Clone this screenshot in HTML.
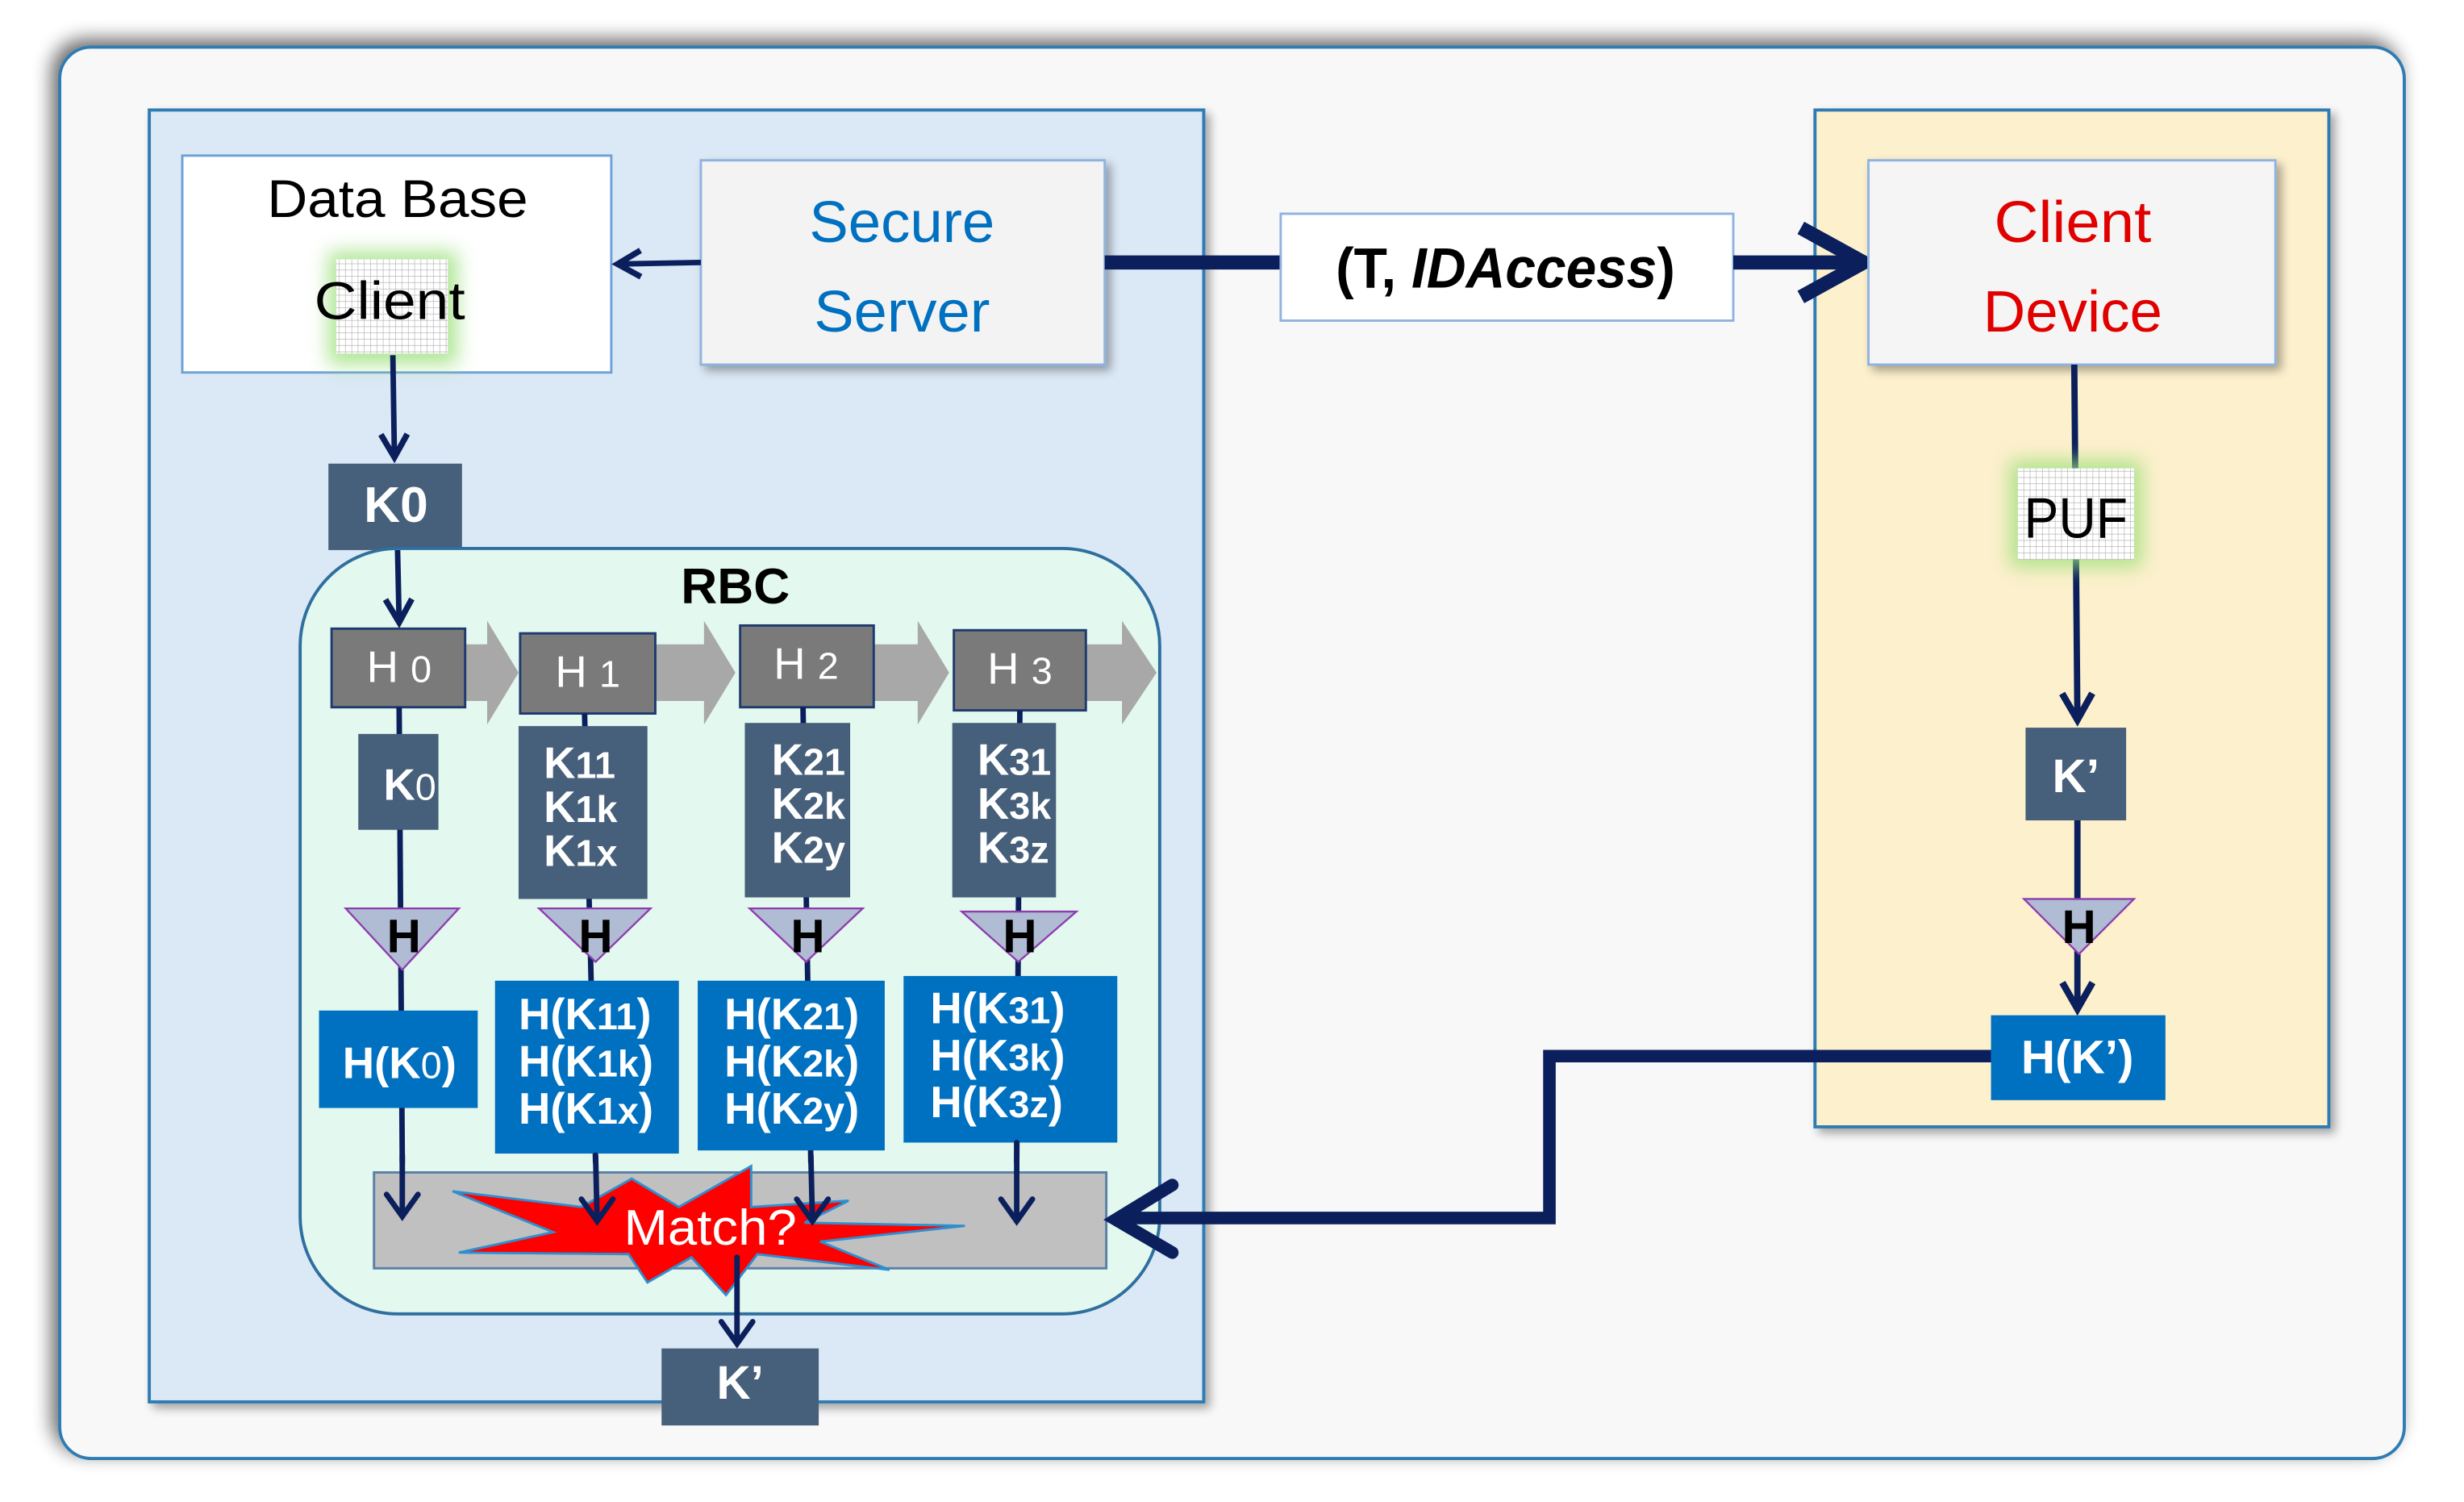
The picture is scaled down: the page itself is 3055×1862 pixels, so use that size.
<!DOCTYPE html>
<html><head><meta charset="utf-8"><style>
html,body{margin:0;padding:0;background:#fff;}
svg{display:block;}
text{font-family:"Liberation Sans",sans-serif;}
</style></head><body>
<svg width="3055" height="1862" viewBox="0 0 1568 955.7" preserveAspectRatio="none" xmlns="http://www.w3.org/2000/svg">
<defs>
<filter id="sh" x="-5%" y="-5%" width="115%" height="115%"><feGaussianBlur in="SourceAlpha" stdDeviation="6"/><feOffset dx="-4" dy="-4"/><feComponentTransfer><feFuncA type="linear" slope="0.6"/></feComponentTransfer><feMerge><feMergeNode/><feMergeNode in="SourceGraphic"/></feMerge></filter>
<filter id="sh2" x="-10%" y="-10%" width="125%" height="125%"><feGaussianBlur in="SourceAlpha" stdDeviation="3"/><feOffset dx="3" dy="3"/><feComponentTransfer><feFuncA type="linear" slope="0.35"/></feComponentTransfer><feMerge><feMergeNode/><feMergeNode in="SourceGraphic"/></feMerge></filter>
<filter id="glow" x="-50%" y="-50%" width="200%" height="200%"><feGaussianBlur stdDeviation="6"/></filter>
<pattern id="grid" width="4" height="4" patternUnits="userSpaceOnUse"><rect width="4" height="4" fill="#fff"/><path d="M4 0V4M0 4H4" stroke="#aaa" stroke-width="0.6"/></pattern>
<marker id="ah" viewBox="0 0 10 10" refX="8" refY="5" markerWidth="6" markerHeight="6" orient="auto" markerUnits="strokeWidth"><path d="M1 1L8 5L1 9" fill="none" stroke="#0a1f5c" stroke-width="1.8"/></marker>
</defs>
<rect width="1568" height="955.7" fill="#fff"/>
<rect x="38" y="30" width="1492" height="898" rx="20" fill="#f8f8f8" stroke="#2f7bb3" stroke-width="2" filter="url(#sh)"/>
<rect x="95" y="70" width="671" height="822" fill="#dbe8f5" stroke="#2f7bb3" stroke-width="2" filter="url(#sh2)"/>
<rect x="1155" y="70" width="327" height="647" fill="#fdf0cd" stroke="#2f7bb3" stroke-width="2" filter="url(#sh2)"/>

<rect x="116" y="99" width="273" height="138" fill="#fff" stroke="#6fa0d8" stroke-width="1.5"/>
<text x="253" y="138" font-size="34" text-anchor="middle" fill="#000" textLength="166" lengthAdjust="spacingAndGlyphs">Data Base</text>
<rect x="209" y="160" width="82" height="72" fill="#9be07a" filter="url(#glow)" opacity="0.8"/>
<rect x="214" y="165" width="71" height="60" fill="url(#grid)"/>
<text x="248" y="203" font-size="34" text-anchor="middle" fill="#000" textLength="96" lengthAdjust="spacingAndGlyphs">Client</text>

<rect x="446" y="102" width="257" height="130" fill="#f3f3f3" stroke="#8fb3e0" stroke-width="1.5" filter="url(#sh2)"/>
<text x="574" y="154" font-size="37" text-anchor="middle" fill="#0070c0" textLength="118" lengthAdjust="spacingAndGlyphs">Secure</text>
<text x="574" y="211" font-size="37" text-anchor="middle" fill="#0070c0" textLength="112" lengthAdjust="spacingAndGlyphs">Server</text>

<line x1="446" y1="167" x2="393" y2="168" stroke="#0a1f5c" stroke-width="3.5" marker-end="url(#ah)"/>
<line x1="703" y1="167" x2="815" y2="167" stroke="#0a1f5c" stroke-width="9"/>
<rect x="815" y="136" width="288" height="68" fill="#fff" stroke="#8fb3e0" stroke-width="1.5"/>
<text x="958" y="183" font-size="36" font-weight="bold" text-anchor="middle" fill="#000" textLength="216" lengthAdjust="spacingAndGlyphs">(T, <tspan font-style="italic">IDAccess</tspan>)</text>
<line x1="1103" y1="167" x2="1180" y2="167" stroke="#0a1f5c" stroke-width="9"/>
<path d="M1146 145L1186 167L1146 189" fill="none" stroke="#0a1f5c" stroke-width="9"/>

<rect x="1189" y="102" width="259" height="130" fill="#f5f5f5" stroke="#8fb3e0" stroke-width="1.5" filter="url(#sh2)"/>
<text x="1319" y="154" font-size="37" text-anchor="middle" fill="#e00000" textLength="100" lengthAdjust="spacingAndGlyphs">Client</text>
<text x="1319" y="211" font-size="37" text-anchor="middle" fill="#e00000" textLength="114" lengthAdjust="spacingAndGlyphs">Device</text>

<line x1="1320" y1="232" x2="1322" y2="458" stroke="#0a1f5c" stroke-width="4" marker-end="url(#ah)"/>
<rect x="1279" y="293" width="84" height="68" fill="#9be07a" filter="url(#glow)" opacity="0.8"/>
<rect x="1284" y="298" width="74" height="58" fill="url(#grid)"/>
<text x="1321" y="342" font-size="36" text-anchor="middle" fill="#000" textLength="66" lengthAdjust="spacingAndGlyphs">PUF</text>
<rect x="1289" y="463" width="64" height="59" fill="#465f7a"/>
<text x="1321" y="504" font-size="30" font-weight="bold" text-anchor="middle" fill="#fff">K’</text>
<line x1="1322" y1="522" x2="1322" y2="642" stroke="#0a1f5c" stroke-width="4" marker-end="url(#ah)"/>
<path d="M1288 572L1358 572L1323 607Z" fill="#b0bcd3" stroke="#8e3db0" stroke-width="1.2"/>
<text x="1323" y="600" font-size="30" font-weight="bold" text-anchor="middle" fill="#000">H</text>
<rect x="1267" y="646" width="111" height="54" fill="#0070c0"/>
<text x="1322" y="683" font-size="30" font-weight="bold" text-anchor="middle" fill="#fff">H(K’)</text>

<line x1="250" y1="226" x2="251" y2="291" stroke="#0a1f5c" stroke-width="3.5" marker-end="url(#ah)"/>
<rect x="209" y="295" width="85" height="55" fill="#465f7a"/>
<text x="252" y="332" font-size="32" font-weight="bold" text-anchor="middle" fill="#fff">K0</text>

<rect x="191" y="349" width="547" height="487" rx="62" fill="#e3f8ee" stroke="#2f6f9f" stroke-width="2"/>
<text x="468" y="384" font-size="32" font-weight="bold" text-anchor="middle" fill="#000">RBC</text>
<line x1="253" y1="350" x2="254" y2="396" stroke="#0a1f5c" stroke-width="3.5" marker-end="url(#ah)"/>

<g fill="#a8a8a8">
<path d="M296 410H310V395L330 428L310 461V446H296Z"/>
<path d="M417 410H448V395L468 428L448 461V446H417Z"/>
<path d="M556 410H584V395L604 428L584 461V446H556Z"/>
<path d="M691 410H714V395L736 428L714 461V446H691Z"/>
</g>
<g fill="#7a7a7a" stroke="#1f3a6e" stroke-width="1.5">
<rect x="211" y="400" width="85" height="50"/>
<rect x="331" y="403" width="86" height="51"/>
<rect x="471" y="398" width="85" height="52"/>
<rect x="607" y="401" width="84" height="51"/>
</g>
<g font-size="28" fill="#fff" text-anchor="middle">
<text x="254" y="434">H <tspan font-size="24">0</tspan></text>
<text x="374" y="437">H <tspan font-size="24">1</tspan></text>
<text x="513" y="432">H <tspan font-size="24">2</tspan></text>
<text x="649" y="435">H <tspan font-size="24">3</tspan></text>
</g>

<g stroke="#0a1f5c" stroke-width="3.5" fill="none">
<line x1="254" y1="450" x2="256" y2="740"/>
<line x1="372" y1="454" x2="379" y2="740"/>
<line x1="511" y1="450" x2="516" y2="740"/>
<line x1="649" y1="452" x2="647" y2="740"/>
</g>

<g fill="#465f7a">
<rect x="228" y="467" width="51" height="61"/>
<rect x="330" y="462" width="82" height="110"/>
<rect x="474" y="460" width="67" height="111"/>
<rect x="606" y="460" width="66" height="111"/>
</g>
<g font-size="28" font-weight="bold" fill="#fff">
<text x="244" y="509">K<tspan font-size="24" font-weight="normal">0</tspan></text>
<text x="346" y="495">K<tspan font-size="24">11</tspan></text>
<text x="346" y="523">K<tspan font-size="24">1k</tspan></text>
<text x="346" y="551">K<tspan font-size="24">1x</tspan></text>
<text x="491" y="493">K<tspan font-size="24">21</tspan></text>
<text x="491" y="521">K<tspan font-size="24">2k</tspan></text>
<text x="491" y="549">K<tspan font-size="24">2y</tspan></text>
<text x="622" y="493">K<tspan font-size="24">31</tspan></text>
<text x="622" y="521">K<tspan font-size="24">3k</tspan></text>
<text x="622" y="549">K<tspan font-size="24">3z</tspan></text>
</g>

<g fill="#b0bcd3" stroke="#8e3db0" stroke-width="1.2">
<path d="M220 578H292L256 617Z"/>
<path d="M343 578H414L379 612Z"/>
<path d="M477 578H549L513 612Z"/>
<path d="M612 580H685L648 612Z"/>
</g>
<g font-size="30" font-weight="bold" fill="#000" text-anchor="middle">
<text x="257" y="606">H</text><text x="379" y="606">H</text><text x="514" y="606">H</text><text x="649" y="606">H</text>
</g>

<g fill="#0070c0">
<rect x="203" y="643" width="101" height="62"/>
<rect x="315" y="624" width="117" height="110"/>
<rect x="444" y="624" width="119" height="108"/>
<rect x="575" y="621" width="136" height="106"/>
</g>
<g font-size="28" font-weight="bold" fill="#fff">
<text x="218" y="686">H(K<tspan font-size="24" font-weight="normal">0</tspan>)</text>
<text x="330" y="655">H(K<tspan font-size="24">11</tspan>)</text>
<text x="330" y="685">H(K<tspan font-size="24">1k</tspan>)</text>
<text x="330" y="715">H(K<tspan font-size="24">1x</tspan>)</text>
<text x="461" y="655">H(K<tspan font-size="24">21</tspan>)</text>
<text x="461" y="685">H(K<tspan font-size="24">2k</tspan>)</text>
<text x="461" y="715">H(K<tspan font-size="24">2y</tspan>)</text>
<text x="592" y="651">H(K<tspan font-size="24">31</tspan>)</text>
<text x="592" y="681">H(K<tspan font-size="24">3k</tspan>)</text>
<text x="592" y="711">H(K<tspan font-size="24">3z</tspan>)</text>
</g>

<rect x="238" y="746" width="466" height="61" fill="#c0c0c0" stroke="#5b7fa6" stroke-width="1.5"/>
<path d="M288 758L370 768L402 750L432 768L478 742L478 768L540 764L512 778L614 780L522 790L566 808L482 798L462 824L440 800L412 816L400 798L292 797L352 784Z" fill="#ff0000" stroke="#2e8fcf" stroke-width="1.5"/>
<g stroke="#0a1f5c" stroke-width="3.5" fill="none" stroke-linecap="round">
<line x1="256" y1="735" x2="256" y2="773"/>
<path d="M246 760L256 774L266 760"/>
<line x1="379" y1="735" x2="380" y2="777"/>
<path d="M370 763L380 777L390 763"/>
<line x1="516" y1="735" x2="517" y2="777"/>
<path d="M507 763L517 777L527 763"/>
<line x1="647" y1="727" x2="647" y2="777"/>
<path d="M637 763L647 777L657 763"/>
<line x1="469" y1="800" x2="469" y2="855"/>
<path d="M459 841L469 855L479 841"/>
</g>
<text x="452" y="792" font-size="32" text-anchor="middle" fill="#fff" textLength="110" lengthAdjust="spacingAndGlyphs">Match?</text>

<rect x="421" y="858" width="100" height="49" fill="#465f7a"/>
<text x="471" y="890" font-size="30" font-weight="bold" text-anchor="middle" fill="#fff">K’</text>

<polyline points="1267,672 986,672 986,775 712,775" fill="none" stroke="#0a1f5c" stroke-width="8"/>
<path d="M746 754L710 776L746 797" fill="none" stroke="#0a1f5c" stroke-width="8" stroke-linecap="round"/>
</svg>
</body></html>
